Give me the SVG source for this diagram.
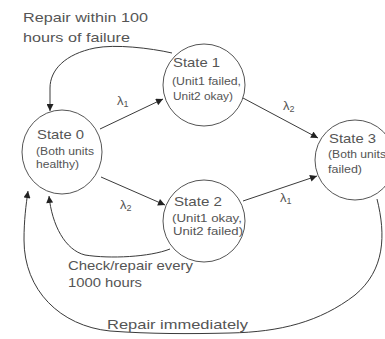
<svg xmlns="http://www.w3.org/2000/svg" width="385" height="339" viewBox="0 0 385 339">
<style>
.node{fill:#fff;stroke:#555;stroke-width:1}
.edge{fill:none;stroke:#3a3a3a;stroke-width:1}
text{font-family:"Liberation Sans",Arial,sans-serif;fill:#555}
.t{font-size:13.5px}
.s{font-size:10px}
.lab{font-size:13.5px}
.lam{font-size:13px}
.sub{font-size:9px}
</style>
<defs>
<marker id="ah" viewBox="0 0 10 10" refX="10" refY="5" markerWidth="8" markerHeight="7" markerUnits="userSpaceOnUse" orient="auto">
<path d="M0,0 L10,5 L0,10 z" fill="#222"/>
</marker>
</defs>
<rect width="385" height="339" fill="#fff"/>
<g id="connectors">
<path class="edge" d="M100,129 L163,99" marker-end="url(#ah)"/>
<path class="edge" d="M101,177 L165,205" marker-end="url(#ah)"/>
<path class="edge" d="M243,98 L318,138" marker-end="url(#ah)"/>
<path class="edge" d="M243,201 L317,176" marker-end="url(#ah)"/>
<path class="edge" d="M172,53 C150,48 115,44 95,48 C65,54 50,70 50,88 L50,111" marker-end="url(#ah)"/>
<path class="edge" d="M170,249 C150,257 110,259 85,255 C65,250 52,225 49,196" marker-end="url(#ah)"/>
<path class="edge" d="M377,199 C386,235 385,270 355,295 C320,322 280,332 230,333 C190,334 150,334 110,331 C60,326 24,290 24,240 C24,220 26,205 28,191" marker-end="url(#ah)"/>
<text class="lam" x="117" y="105">λ<tspan class="sub" dy="2">1</tspan></text>
<text class="lam" x="120" y="209">λ<tspan class="sub" dy="2">2</tspan></text>
<text class="lam" x="283" y="110">λ<tspan class="sub" dy="2">2</tspan></text>
<text class="lam" x="280" y="202">λ<tspan class="sub" dy="2">1</tspan></text>
<text class="lab" x="23" y="22" textLength="125" lengthAdjust="spacingAndGlyphs">Repair within 100</text>
<text class="lab" x="23" y="42" textLength="107" lengthAdjust="spacingAndGlyphs">hours of failure</text>
<text class="lab" x="68" y="270" textLength="125" lengthAdjust="spacingAndGlyphs">Check/repair every</text>
<text class="lab" x="68" y="287" textLength="74" lengthAdjust="spacingAndGlyphs">1000 hours</text>
<text class="lab" x="107" y="329" textLength="141" lengthAdjust="spacingAndGlyphs">Repair immediately</text>
</g>
<g id="state0">
<ellipse class="node" cx="62" cy="152" rx="40" ry="42"/>
<text class="t" x="37" y="139" textLength="47" lengthAdjust="spacingAndGlyphs">State 0</text>
<text class="s" x="36" y="155" textLength="58" lengthAdjust="spacingAndGlyphs">(Both units</text>
<text class="s" x="36" y="168" textLength="43" lengthAdjust="spacingAndGlyphs">healthy)</text>
</g>
<g id="state1">
<circle class="node" cx="204" cy="85" r="41"/>
<text class="t" x="173" y="67" textLength="47" lengthAdjust="spacingAndGlyphs">State 1</text>
<text class="s" x="172" y="85" textLength="69" lengthAdjust="spacingAndGlyphs">(Unit1 failed,</text>
<text class="s" x="173" y="100" textLength="60" lengthAdjust="spacingAndGlyphs">Unit2 okay)</text>
</g>
<g id="state2">
<circle class="node" cx="204" cy="221" r="41"/>
<text class="t" x="174" y="206" textLength="48" lengthAdjust="spacingAndGlyphs">State 2</text>
<text class="s" x="172" y="222" textLength="70" lengthAdjust="spacingAndGlyphs">(Unit1 okay,</text>
<text class="s" x="173" y="235" textLength="70" lengthAdjust="spacingAndGlyphs">Unit2 failed)</text>
</g>
<g id="state3">
<circle class="node" cx="355" cy="160" r="40"/>
<text class="t" x="329" y="143" textLength="47" lengthAdjust="spacingAndGlyphs">State 3</text>
<text class="s" x="328" y="158" textLength="58" lengthAdjust="spacingAndGlyphs">(Both units</text>
<text class="s" x="328" y="173" textLength="34" lengthAdjust="spacingAndGlyphs">failed)</text>
</g>
</svg>
